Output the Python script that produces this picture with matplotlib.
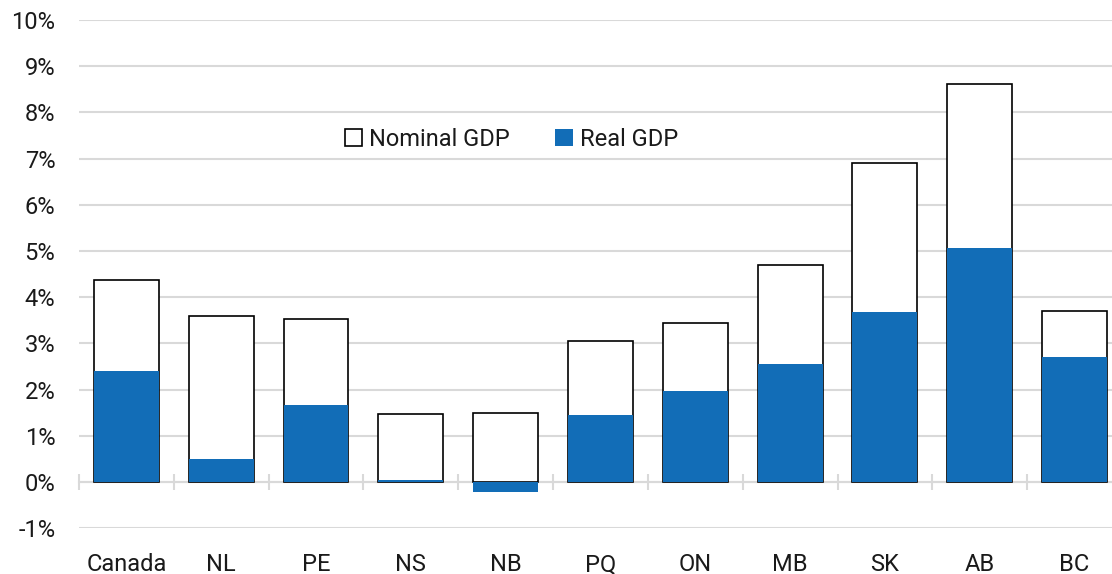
import numpy as np
import matplotlib
matplotlib.use('Agg')
import matplotlib.pyplot as plt
from matplotlib.ticker import FuncFormatter, FixedLocator

plt.rcParams['font.family'] = ['Roboto', 'DejaVu Sans']

regions = ['Canada', 'NL', 'PE', 'NS', 'NB', 'PQ', 'ON', 'MB', 'SK', 'AB', 'BC']
nominal_gdp = [4.37, 3.59, 3.53, 1.48, 1.49, 3.05, 3.43, 4.70, 6.90, 8.61, 3.69]
real_gdp = [2.40, 0.50, 1.67, 0.05, -0.21, 1.44, 1.97, 2.55, 3.68, 5.07, 2.71]

blue = '#126db7'
grid_col = '#d9d9d9'
text_col = '#1a1a1a'

fig = plt.figure(figsize=(11.12, 5.74), dpi=100)
# plot area runs slightly past the right edge of the image, as in the original
ax = fig.add_axes([0.071, 0.080, 0.938, 0.885])

x = np.arange(len(regions))
width = 0.685
ax.bar(x, nominal_gdp, width, color='white', edgecolor='black', linewidth=1.2,
       label='Nominal GDP', zorder=2)
ax.bar(x, real_gdp, width, color=blue, linewidth=0, label='Real GDP', zorder=3)

ax.set_xlim(-0.5, len(regions) - 0.5)
ax.set_ylim(-1, 10)
ax.set_yticks(np.arange(-1, 11, 1))
ax.yaxis.set_major_formatter(FuncFormatter(lambda v, p: f'{v:.0f}%'))
ax.grid(axis='y', color=grid_col, linewidth=1.5, zorder=0)
ax.set_axisbelow(True)

for s in ax.spines.values():
    s.set_visible(False)

ax.set_xticks(x)
ax.set_xticklabels(regions)
ax.tick_params(axis='both', length=0, labelsize=17, colors=text_col)
ax.tick_params(axis='y', pad=17)
ax.tick_params(axis='x', pad=18)

# category axis line at zero with boundary tick marks
sec = ax.secondary_xaxis(1 / 11)
sec.spines['bottom'].set_color(grid_col)
sec.spines['bottom'].set_linewidth(1.5)
sec.xaxis.set_major_locator(FixedLocator(np.arange(-0.5, len(regions), 1)))
sec.tick_params(axis='x', direction='inout', length=12, width=1.5,
                color=grid_col, labelbottom=False)

ax.legend(loc='center', bbox_to_anchor=(0.4145, 0.765), ncol=2, frameon=False,
          fontsize=17, handlelength=0.75, handleheight=0.75, handletextpad=0.3,
          columnspacing=1.9, labelcolor=text_col)

fig.savefig('out.png', dpi=100)
